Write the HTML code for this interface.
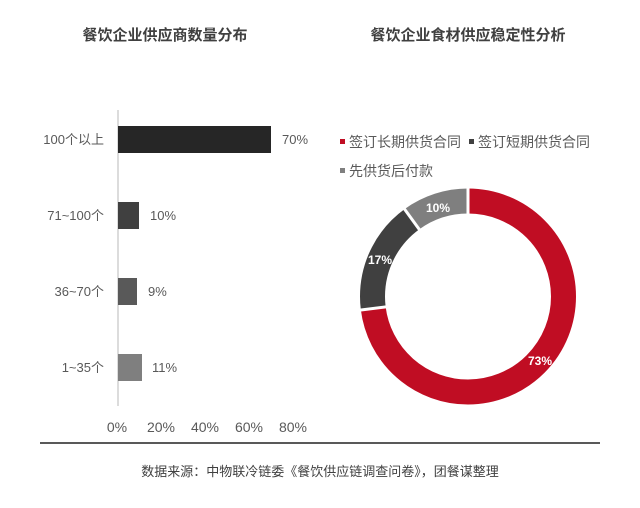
<!DOCTYPE html>
<html><head><meta charset="utf-8"><style>
body{margin:0;background:#fff;width:640px;height:503px;overflow:hidden}
svg text{font-family:"Liberation Sans","Noto Sans CJK SC",sans-serif}
</style></head><body>
<svg width="640" height="503" viewBox="0 0 640 503" xmlns="http://www.w3.org/2000/svg">
<text x="165" y="40" font-size="15" font-weight="bold" fill="#404040" text-anchor="middle">餐饮企业供应商数量分布</text>
<text x="468" y="40" font-size="15" font-weight="bold" fill="#404040" text-anchor="middle">餐饮企业食材供应稳定性分析</text>
<line x1="118" y1="110" x2="118" y2="406" stroke="#d0d0d0" stroke-width="1.5"/>
<rect x="118" y="126" width="153" height="27" fill="#262626"/>
<rect x="118" y="202" width="21" height="27" fill="#404040"/>
<rect x="118" y="278" width="19" height="27" fill="#595959"/>
<rect x="118" y="354" width="24" height="27" fill="#7f7f7f"/>
<g font-size="13" fill="#595959" text-anchor="end">
<text x="104" y="144">100个以上</text>
<text x="104" y="220">71~100个</text>
<text x="104" y="296">36~70个</text>
<text x="104" y="372">1~35个</text>
</g>
<g font-size="13" fill="#595959">
<text x="282" y="144">70%</text>
<text x="150" y="220">10%</text>
<text x="148" y="296">9%</text>
<text x="152" y="372">11%</text>
</g>
<g font-size="14" fill="#595959" text-anchor="middle">
<text x="117" y="432">0%</text><text x="161" y="432">20%</text><text x="205" y="432">40%</text><text x="249" y="432">60%</text><text x="293" y="432">80%</text>
</g>
<line x1="40" y1="443" x2="600" y2="443" stroke="#595959" stroke-width="2"/>
<text x="320" y="476" font-size="13" fill="#404040" text-anchor="middle">数据来源：中物联冷链委《餐饮供应链调查问卷》，团餐谋整理</text>
<rect x="340" y="139" width="5" height="5" fill="#c00d23"/>
<text x="349" y="147" font-size="14" fill="#595959">签订长期供货合同</text>
<rect x="469" y="139" width="5" height="5" fill="#404040"/>
<text x="478" y="147" font-size="14" fill="#595959">签订短期供货合同</text>
<rect x="340" y="168" width="5" height="5" fill="#7f7f7f"/>
<text x="349" y="176" font-size="14" fill="#595959">先供货后付款</text>
<g transform="translate(468,296.5) rotate(-90)">
<circle r="95.5" fill="none" stroke="#c00d23" stroke-width="25" stroke-dasharray="438.04 600.04"/>
<circle r="95.5" fill="none" stroke="#404040" stroke-width="25" stroke-dasharray="0 438.04 102.01 600"/>
<circle r="95.5" fill="none" stroke="#7f7f7f" stroke-width="25" stroke-dasharray="0 540.05 60 600"/>
<line x1="0" y1="0" x2="112" y2="0" stroke="#fff" stroke-width="3"/>
<line x1="0" y1="0" x2="112" y2="0" stroke="#fff" stroke-width="3" transform="rotate(262.8)"/>
<line x1="0" y1="0" x2="112" y2="0" stroke="#fff" stroke-width="3" transform="rotate(324)"/>
</g>
<g font-size="12" font-weight="bold" fill="#fff" text-anchor="middle">
<text x="540" y="365">73%</text>
<text x="380" y="264">17%</text>
<text x="438" y="212">10%</text>
</g>
</svg>
</body></html>
